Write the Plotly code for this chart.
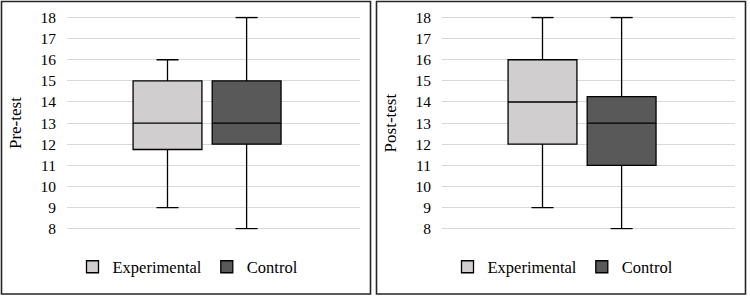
import plotly.graph_objects as go

# ---- data ----
groups = ["Experimental", "Control"]
panel_titles = ["Pre-test", "Post-test"]
# per panel, per group: [min, q1, median, q3, max]
pre_min = [9, 8]
pre_q1 = [11.75, 12]
pre_med = [13, 13]
pre_q3 = [15, 15]
pre_max = [16, 18]
post_min = [9, 8]
post_q1 = [12, 11]
post_med = [14, 13]
post_q3 = [16, 14.25]
post_max = [18, 18]
y_ticks = [8, 9, 10, 11, 12, 13, 14, 15, 16, 17, 18]

fills = ["#d0cece", "#595959"]
positions = [0.343, 0.613]
box_w = 0.235

W, H = 750, 297
fig = go.Figure()

panels = [
    (pre_min, pre_q1, pre_med, pre_q3, pre_max),
    (post_min, post_q1, post_med, post_q3, post_max),
]
serif = "'Liberation Serif', 'Times New Roman', serif"

for p, (mn, q1, md, q3, mx) in enumerate(panels):
    xa = "x" if p == 0 else "x2"
    ya = "y" if p == 0 else "y2"
    lg = "legend" if p == 0 else "legend2"
    for g in range(2):
        fig.add_trace(go.Box(
            x=[positions[g]], lowerfence=[mn[g]], q1=[q1[g]], median=[md[g]],
            q3=[q3[g]], upperfence=[mx[g]], name=groups[g],
            width=box_w, whiskerwidth=0.32,
            fillcolor=fills[g], line=dict(color="#000000", width=1.3),
            boxpoints=False, xaxis=xa, yaxis=ya, legend=lg, hoverinfo="skip",
        ))

ybot = (H - 228.7 - 1.06) / H
ytop = (H - 17.5 + 1.06) / H
doms = [(67 / W, 360 / W), ((375 + 67) / W, (375 + 360) / W)]

common_y = dict(range=[7.95, 18.05], tickvals=y_ticks, showgrid=True,
                gridcolor="#d9d9d9", gridwidth=1, zeroline=False,
                showline=False, ticks="", ticklabelstandoff=10, automargin=False,
                tickfont=dict(family=serif, size=15.5, color="#000"),
                domain=[ybot, ytop], fixedrange=True)
common_x = dict(range=[0, 1], showticklabels=False, showgrid=False, automargin=False,
                zeroline=False, showline=False, ticks="", fixedrange=True)

leg = dict(orientation="h", xanchor="center", y=30 / H, yanchor="middle",
           font=dict(family=serif, size=16.5, color="#000"), itemclick=False,
           bgcolor="rgba(0,0,0,0)", traceorder="normal", itemwidth=30)

title_font = dict(family=serif, size=17, color="#000")
fig.update_layout(
    width=W, height=H, margin=dict(l=0, r=0, t=0, b=0, autoexpand=False),
    paper_bgcolor="white", plot_bgcolor="white",
    xaxis=dict(**common_x, domain=list(doms[0])),
    xaxis2=dict(**common_x, domain=list(doms[1]), anchor="y2"),
    yaxis=dict(**common_y, anchor="x",
               title=dict(text=panel_titles[0], font=title_font, standoff=14)),
    yaxis2=dict(**common_y, anchor="x2",
                title=dict(text=panel_titles[1], font=title_font, standoff=14)),
    legend=dict(**leg, x=188 / W),
    legend2=dict(**leg, x=(375 + 188) / W),
    showlegend=True,
)

# panel borders
for (x0, x1) in [(1.5, 370.5), (376.5, 745.5)]:
    fig.add_shape(type="rect", xref="paper", yref="paper",
                  x0=x0 / W, x1=x1 / W, y0=(H - 294) / H, y1=(H - 1.5) / H,
                  line=dict(color="#262626", width=1.6), fillcolor="rgba(0,0,0,0)")

fig.write_html("out.html", config={"displayModeBar": False},
               post_script="document.body.style.margin='0';document.body.style.overflow='hidden';")
